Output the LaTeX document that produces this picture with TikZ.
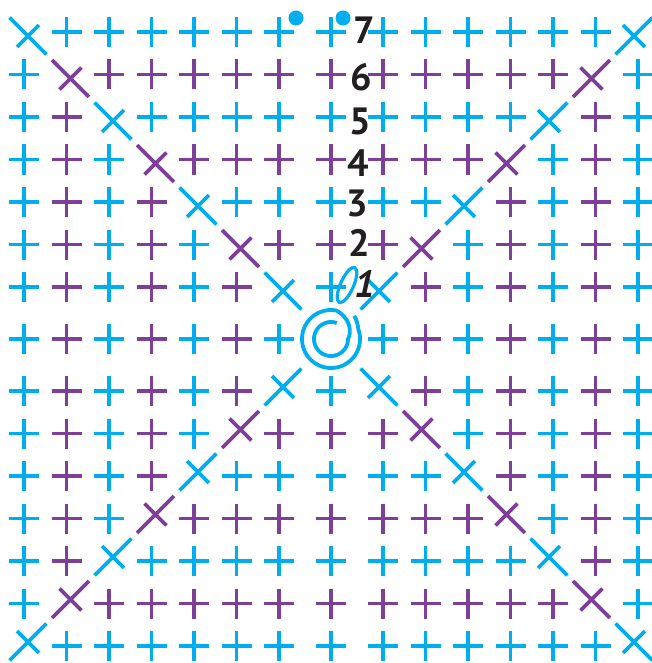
\documentclass[tikz,border=0pt]{standalone}
\usepackage{fontspec}
\newfontfamily\chartfont{PT Sans}
\usetikzlibrary{calc}
\definecolor{oddround}{HTML}{00AEEF}
\definecolor{evenround}{HTML}{7E3F98}
\definecolor{numink}{HTML}{231F20}

\begin{document}
\begin{tikzpicture}[
          x=1pt, y=-1pt,
          stitch/.style={line width=3.8pt},
          num/.style={font=\chartfont\bfseries\fontsize{38}{38}\selectfont, text=numink, inner sep=0pt}
      ]
        \useasboundingbox (0,0) rectangle (652,663);
        % stitches, round by round
        \foreach \i in {-7,...,7}{
          \foreach \j in {-7,...,7}{
            \pgfmathtruncatemacro\rnd{max(abs(\i),abs(\j))}
            \pgfmathtruncatemacro\odd{mod(\rnd,2)}
            \pgfmathtruncatemacro\diag{abs(\i)==abs(\j)}
            \pgfmathsetmacro\px{331+sign(\i)*(52+(abs(\i)-1)*42.5)}
            \pgfmathsetmacro\py{339+sign(\j)*(52+(abs(\j)-1)*42.5)}
            \ifnum\odd=1 \def\ink{oddround}\else\def\ink{evenround}\fi
            \ifnum\rnd>0
              \ifnum\diag=1
                \pgfmathsetmacro\qx{\px-4*sign(\i)}
                \pgfmathsetmacro\qy{\py-4*sign(\j)}
                \pgfmathsetmacro\ang{-45*sign(\i)*sign(\j)}
                \draw[stitch, \ink, shift={(\qx,\qy)}, rotate=\ang] (-26,0) -- (26,0) (0,-15.5) -- (0,15.5);
              \else
                \draw[stitch, \ink, shift={(\px,\py)}] (-15,0) -- (15,0) (0,-15) -- (0,15);
              \fi
            \fi
          }
        }
        % magic ring
        \draw[stitch, oddround] plot[domain=45:-650, samples=240, smooth]
          ({331+(17+12*min(1,max(0,(\x+360)/80))+0.15*max(0,\x-20))*cos(\x)},
           {339-(17+12*min(1,max(0,(\x+360)/80))+0.15*max(0,\x-20))*sin(\x)});
        % chain and slip stitches
        \draw[oddround, line width=3.2pt, shift={(347,285)}, rotate=66] (0,0) ellipse [x radius=19pt, y radius=6.5pt];
        \fill[oddround] (296,18) circle [radius=7.5];
        \fill[oddround] (343,18) circle [radius=7.5];
        % round numbers
        \foreach \n/\lx/\ly in {7/364/30, 6/361/77, 5/360/121, 4/358/163, 3/357/203, 2/359/243}
          \node[num] (rnd\n) at (\lx,\ly) {\n};
        \node[num, font=\chartfont\bfseries\itshape\fontsize{38}{38}\selectfont] (rnd1) at (365,284) {1};
      \end{tikzpicture}
\end{document}
